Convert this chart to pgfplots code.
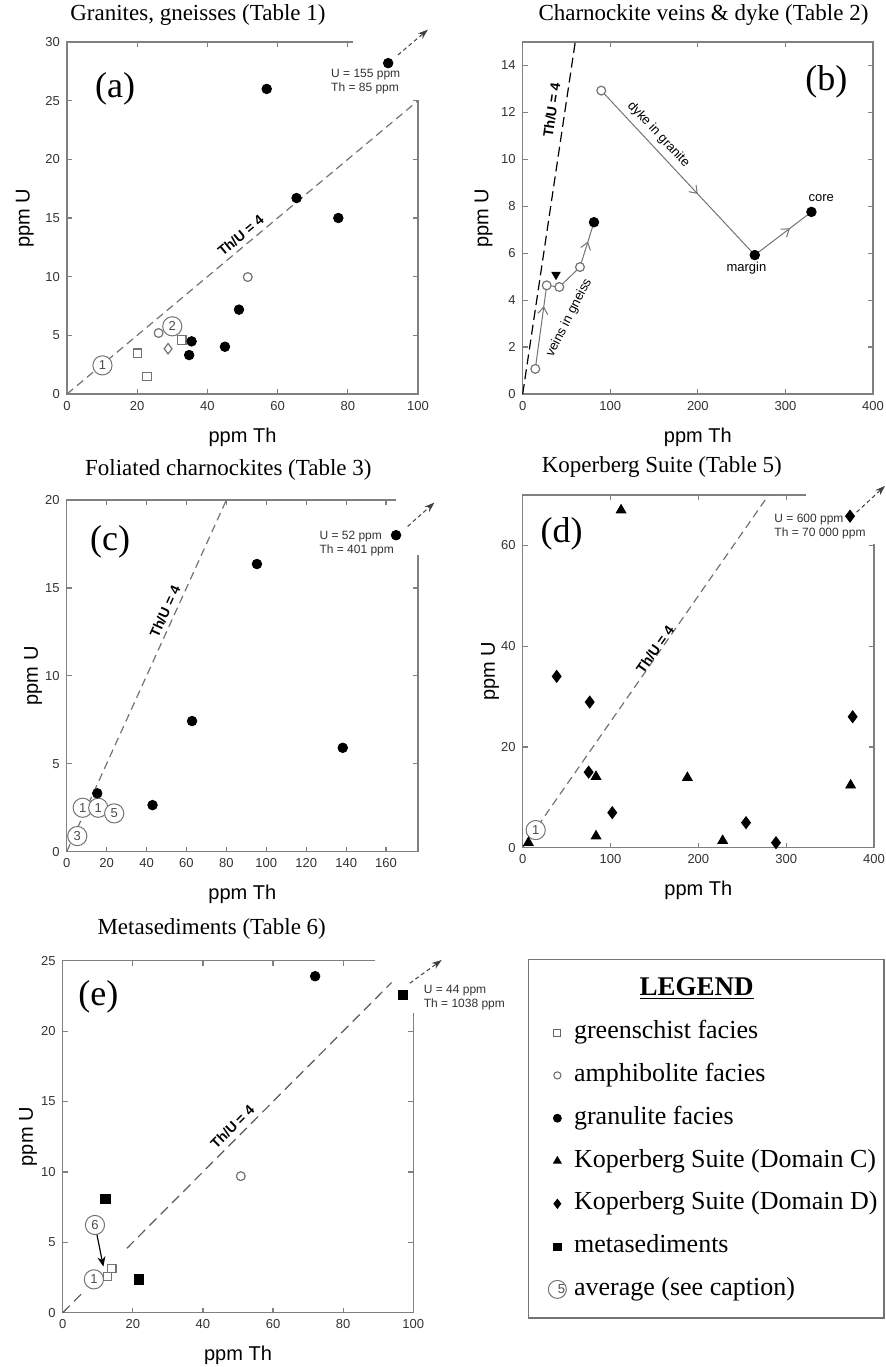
\documentclass[border=0pt]{standalone}
\usepackage{pgfplots}
\pgfplotsset{compat=1.18}
\usepackage{fontspec}
\setmainfont{Liberation Serif}
\setsansfont{Liberation Sans}
\usetikzlibrary{arrows.meta,decorations.markings}

\pgfplotsset{
  panel/.style={
    scale only axis, clip=false, anchor=south west,
    axis line style={draw=black!50, line width=0.7pt},
    tick style={draw=black!50, line width=0.6pt},
    major tick length=2.5pt, tick align=inside,
    ticklabel style={font=\sffamily\fontsize{6.5}{7}\selectfont, text=black!80},
    /pgf/number format/assume math mode=true,
    label style={font=\sffamily\fontsize{10}{12}\selectfont},
    xlabel={ppm Th}, ylabel={ppm U},
    xlabel style={at={(axis description cs:0.5,-0.122)}, anchor=center},
    title style={font=\rmfamily\fontsize{11.5}{13}\selectfont, anchor=center},
  },
  gran/.style={only marks, mark=*, mark size=2.4pt, mark options={draw=black, fill=black}},
  amph/.style={only marks, mark=*, mark size=2.2pt, mark options={draw=black!55, fill=white, line width=0.6pt}},
  green/.style={only marks, mark=square*, mark size=2.1pt, mark options={draw=black!55, fill=white, line width=0.6pt}},
  meta/.style={only marks, mark=square*, mark size=2.3pt, mark options={draw=black, fill=black}},
  domc/.style={only marks, mark=triangle*, mark size=2.8pt, mark options={draw=black, fill=black}},
  domd/.style={only marks, mark=diamond*, mark size=3pt, mark options={draw=black, fill=black}},
  avg/.style={only marks, mark=*, mark size=4.8pt,
    mark options={draw=black!55, fill=white, line width=0.5pt},
    point meta=explicit symbolic, nodes near coords,
    every node near coord/.append style={anchor=center, inner sep=0pt,
      font=\sffamily\fontsize{6.5}{7}\selectfont, text=black!70}},
  thu/.style={black!55, line width=0.6pt, dash pattern=on 4pt off 2.5pt},
  outl/.style={black!75, line width=0.5pt, dash pattern=on 2pt off 1.5pt,
    -{Stealth[length=5pt,width=3.5pt]}},
  chain/.style={black!55, line width=0.5pt},
  arr/.style={postaction={decorate}, decoration={markings,
    mark=at position #1 with {\arrow{Straight Barb[length=3.5pt,width=5pt]}}}},
}
\tikzset{
  thulab/.style={font=\sffamily\bfseries\fontsize{7}{8}\selectfont, inner sep=0.5pt},
  panlab/.style={font=\rmfamily\fontsize{18}{20}\selectfont},
  note/.style={font=\sffamily\fontsize{6}{7}\selectfont, align=left, text=black!80, inner sep=0pt},
  small/.style={font=\sffamily\fontsize{6.5}{7.5}\selectfont, inner sep=0.5pt},
}

\begin{document}
\begin{tikzpicture}
\useasboundingbox (0,0) rectangle (443pt,-683.5pt);

% (a) granites, gneisses
\begin{axis}[panel, at={(33.5pt,-197pt)}, width=175.5pt, height=176pt,
  xmin=0, xmax=100, ymin=0, ymax=30,
  xtick={0,20,...,100}, ytick={0,5,...,30},
  title={Granites, gneisses (Table 1)}, title style={at={(0.373,1.043)}},
  ylabel style={at={(axis description cs:-0.12,0.5)}, anchor=center}]
\fill[white] (axis cs:81.5,25.1) rectangle (axis cs:115,33);
\addplot[thu] coordinates {(0,0) (100,25)};
\addplot[outl] coordinates {(94.3,28.9) (102.8,31.05)};
\addplot[green] coordinates {(20.1,3.47) (22.8,1.5) (32.7,4.6)};
\addplot[amph] coordinates {(51.5,9.97) (26.1,5.2)};
\addplot[only marks, mark=diamond*, mark size=2.6pt,
  mark options={draw=black!55, fill=white, line width=0.6pt}] coordinates {(28.8,3.86)};
\addplot[gran] coordinates {(56.9,26.0) (91.5,28.2) (65.4,16.7) (77.3,15.0)
  (49.0,7.19) (35.5,4.49) (34.8,3.32) (45.0,4.03)};
\addplot[avg] coordinates {(10.1,2.44) [1] (30.0,5.77) [2]};
\node[thulab, rotate=39.8] at (axis cs:49.5,13.5) {Th/U = 4};
\node[panlab] at (axis cs:13.7,26.0) {(a)};
\node[note] at (axis cs:85.1,26.65) {U = 155 ppm\\Th = 85 ppm};
\end{axis}

% (b) charnockite veins and dyke
\begin{axis}[panel, at={(261.35pt,-197pt)}, width=175.15pt, height=176pt,
  xmin=0, xmax=400, ymin=0, ymax=15,
  xtick={0,100,...,400}, ytick={0,2,...,14},
  title={Charnockite veins \& dyke (Table 2)}, title style={at={(0.516,1.043)}},
  ylabel style={at={(axis description cs:-0.112,0.5)}, anchor=center}]
\addplot[black, line width=0.6pt, dash pattern=on 5pt off 2.5pt] coordinates {(0,0) (60,15)};
\addplot[chain, arr=0.75] coordinates {(14.4,1.07) (27.4,4.63)};
\addplot[chain] coordinates {(27.4,4.63) (41.8,4.56) (65.4,5.41)};
\addplot[chain, arr=0.57] coordinates {(65.4,5.41) (81.4,7.32)};
\addplot[chain, arr=0.63] coordinates {(89.7,12.93) (265,5.92)};
\addplot[chain, arr=0.62] coordinates {(265,5.92) (329.7,7.76)};
\addplot[amph] coordinates {(89.7,12.93) (65.4,5.41) (41.8,4.56) (27.4,4.63) (14.4,1.07)};
\addplot[gran] coordinates {(265,5.92) (329.7,7.76) (81.4,7.32)};
\addplot[only marks, mark=triangle*, mark size=2.4pt,
  mark options={rotate=180, draw=black, fill=black}] coordinates {(38.0,5.09)};
\node[thulab, rotate=81.5] at (axis cs:33.1,12.1) {Th/U = 4};
\node[small, rotate=-47] at (axis cs:155,11.05) {dyke in granite};
\node[small, rotate=63] at (axis cs:53,3.25) {veins in gneiss};
\node[small] at (axis cs:255.5,5.35) {margin};
\node[small] at (axis cs:341,8.35) {core};
\node[panlab] at (axis cs:346.8,13.3) {(b)};
\end{axis}

% (c) foliated charnockites
\begin{axis}[panel, at={(33.35pt,-425.85pt)}, width=175.65pt, height=175.85pt,
  xmin=0, xmax=176, ymin=0, ymax=20,
  xtick={0,20,...,160}, ytick={0,5,...,20},
  title={Foliated charnockites (Table 3)}, title style={at={(0.46,1.052)}},
  ylabel style={at={(axis description cs:-0.096,0.5)}, anchor=center}]
\fill[white] (axis cs:165,16.9) rectangle (axis cs:200,22);
\addplot[thu] coordinates {(0,0) (80,20)};
\addplot[outl] coordinates {(170.8,18.5) (184.2,19.85)};
\addplot[avg] coordinates {(8,2.5) [1] (15.8,2.5) [1] (23.8,2.18) [5] (5.3,0.89) [3]};
\addplot[gran] coordinates {(165,18.0) (95.3,16.36) (62.8,7.43) (138.3,5.91)
  (43,2.65) (15.3,3.32)};
\node[thulab, rotate=65.5] at (axis cs:49.2,13.65) {Th/U = 4};
\node[panlab] at (axis cs:21.7,17.6) {(c)};
\node[note] at (axis cs:145.3,17.5) {U = 52 ppm\\Th = 401 ppm};
\end{axis}

% (d) Koperberg Suite
\begin{axis}[panel, at={(261.35pt,-423.85pt)}, width=175.65pt, height=176.35pt,
  xmin=0, xmax=400, ymin=0, ymax=70,
  xtick={0,100,...,400}, ytick={0,20,40,60},
  title={Koperberg Suite (Table 5)}, title style={at={(0.396,1.045)}},
  ylabel style={at={(axis description cs:-0.093,0.5)}, anchor=center}]
\fill[white] (axis cs:323,60.2) rectangle (axis cs:440,78);
\addplot[thu] coordinates {(0,0) (280,70)};
\addplot[outl] coordinates {(380.3,66.6) (412.5,71.8)};
\addplot[avg] coordinates {(14.8,3.5) [1]};
\addplot[domd] coordinates {(372.7,65.8) (38.7,34.0) (76.3,28.9) (75.1,15.0)
  (102,6.96) (254.3,4.97) (288.4,0.99) (375.7,26.0)};
\addplot[domc] coordinates {(112,67.0) (83.5,14.1) (187.5,13.9) (373.4,12.4)
  (83.5,2.3) (227.7,1.4) (6.5,1.0)};
\node[thulab, rotate=55] at (axis cs:150.7,39.3) {Th/U = 4};
\node[panlab] at (axis cs:44.4,62.2) {(d)};
\node[note] at (axis cs:338.5,63.7) {U = 600 ppm\\Th = 70 000 ppm};
\end{axis}

% (e) metasediments
\begin{axis}[panel, at={(31.35pt,-656.35pt)}, width=175.3pt, height=176pt,
  xmin=0, xmax=100, ymin=0, ymax=25,
  xtick={0,20,...,100}, ytick={0,5,...,25},
  title={Metasediments (Table 6)}, title style={at={(0.425,1.057)}},
  ylabel style={at={(axis description cs:-0.099,0.5)}, anchor=center}]
\fill[white] (axis cs:89,21.3) rectangle (axis cs:130,28);
\addplot[thu, black!65, dash pattern=on 5pt off 3pt] coordinates {(0,0) (5.5,1.375)};
\addplot[thu, black!65, dash pattern=on 5pt off 3pt] coordinates {(18.3,4.575) (93.8,23.45)};
\addplot[outl] coordinates {(99,23.4) (108.1,25.05)};
\addplot[black, line width=0.6pt, -{Stealth[length=5pt,width=4pt]}] coordinates {(9.7,5.63) (11.6,3.27)};
\addplot[avg] coordinates {(9.2,6.23) [6] (8.9,2.37) [1]};
\addplot[green] coordinates {(14,3.15) (12.8,2.56)};
\addplot[amph] coordinates {(50.8,9.7)};
\addplot[gran] coordinates {(72,23.9)};
\addplot[meta] coordinates {(97,22.6) (12.2,8.1) (21.7,2.37)};
\node[thulab, rotate=45] at (axis cs:48.4,13.2) {Th/U = 4};
\node[panlab] at (axis cs:10.2,22.4) {(e)};
\node[note, anchor=west] at (axis cs:102.9,22.4) {U = 44 ppm\\Th = 1038 ppm};
\end{axis}

% legend
\begin{axis}[at={(264.15pt,-659pt)}, anchor=south west, scale only axis,
  width=177.85pt, height=179.35pt, hide axis, clip=false,
  xmin=0, xmax=1, ymin=0, ymax=1,
  legend image code/.code={\draw[#1] plot coordinates {(0.15cm,0cm)};},
  legend cell align=left,
  legend style={at={(0.037,0.847)}, anchor=north west, draw=none, fill=none,
    font=\rmfamily\fontsize{13}{15}\selectfont, row sep=7.4pt,
    nodes={inner sep=1pt, text height=9pt, text depth=3pt},
    /tikz/every odd column/.append style={column sep=2.6pt}}]
\draw[black!55, line width=0.8pt] (rel axis cs:0,0) rectangle (rel axis cs:1,1);
\node[font=\rmfamily\bfseries\fontsize{13.5}{15}\selectfont] at (rel axis cs:0.473,0.919) {\underline{LEGEND}};
\addlegendimage{only marks, mark=square*, mark size=1.7pt, mark options={draw=black!60, fill=white, line width=0.5pt}}
\addlegendentry{greenschist facies}
\addlegendimage{only marks, mark=*, mark size=1.8pt, mark options={draw=black!60, fill=white, line width=0.5pt}}
\addlegendentry{amphibolite facies}
\addlegendimage{only marks, mark=*, mark size=2pt, mark options={draw=black, fill=black}}
\addlegendentry{granulite facies}
\addlegendimage{only marks, mark=triangle*, mark size=2.2pt, mark options={draw=black, fill=black}}
\addlegendentry{Koperberg Suite (Domain C)}
\addlegendimage{only marks, mark=diamond*, mark size=2.3pt, mark options={draw=black, fill=black}}
\addlegendentry{Koperberg Suite (Domain D)}
\addlegendimage{only marks, mark=square*, mark size=1.8pt, mark options={draw=black, fill=black}}
\addlegendentry{metasediments}
\addlegendimage{legend image code/.code={\draw[black!55, fill=white, line width=0.5pt] (0.15cm,0cm) circle (4.5pt)
  node[font=\sffamily\fontsize{6.5}{7}\selectfont, text=black!70, inner sep=0pt, text height=4.5pt, text depth=0pt] {5};}}
\addlegendentry{average (see caption)}
\end{axis}
\end{tikzpicture}
\end{document}
